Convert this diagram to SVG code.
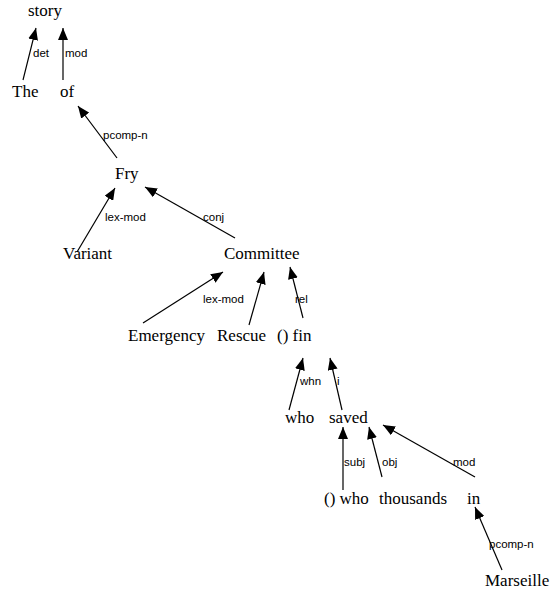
<svg xmlns="http://www.w3.org/2000/svg" width="551" height="593" viewBox="0 0 551 593">
<style>
.w{font-family:"Liberation Serif","Times New Roman",serif;font-size:17px;fill:#000}
.l{font-family:"Liberation Sans",Arial,sans-serif;font-size:11.5px;fill:#000}
.e{stroke:#000;stroke-width:1.2;fill:none;marker-end:url(#a)}
</style>
<defs>
<marker id="a" markerUnits="userSpaceOnUse" markerWidth="14" markerHeight="10" refX="12" refY="5" orient="auto" viewBox="0 0 14 10">
<path d="M0,0 L12,5 L0,10 Z" fill="#000"/>
</marker>
</defs>
<rect width="551" height="593" fill="#fff"/>
<g id="connectors">
<line class="e" x1="23" y1="80" x2="36" y2="28"/>
<line class="e" x1="63" y1="80" x2="63" y2="28"/>
<line class="e" x1="117" y1="158" x2="78" y2="106"/>
<line class="e" x1="77" y1="252" x2="115" y2="188"/>
<line class="e" x1="235" y1="238" x2="145" y2="187"/>
<line class="e" x1="143" y1="323" x2="223" y2="272"/>
<line class="e" x1="249" y1="325" x2="264" y2="272"/>
<line class="e" x1="303" y1="318" x2="290" y2="267"/>
<line class="e" x1="289" y1="410" x2="303" y2="358"/>
<line class="e" x1="342" y1="410" x2="330" y2="358"/>
<line class="e" x1="343" y1="490" x2="343" y2="427"/>
<line class="e" x1="382" y1="477" x2="369" y2="427"/>
<line class="e" x1="475" y1="477" x2="383" y2="425"/>
<line class="e" x1="502" y1="570" x2="475" y2="507"/>
<text class="l" x="33" y="57">det</text>
<text class="l" x="65" y="57">mod</text>
<text class="l" x="103" y="139">pcomp-n</text>
<text class="l" x="105" y="221">lex-mod</text>
<text class="l" x="203" y="221">conj</text>
<text class="l" x="203" y="303">lex-mod</text>
<text class="l" x="295" y="303">rel</text>
<text class="l" x="300" y="385">whn</text>
<text class="l" x="337" y="385">i</text>
<text class="l" x="344" y="466">subj</text>
<text class="l" x="382" y="466">obj</text>
<text class="l" x="453" y="466">mod</text>
<text class="l" x="489" y="548">pcomp-n</text>
</g>
<g id="n-story"><text class="w" x="28" y="16">story</text></g>
<g id="n-the"><text class="w" x="12" y="97">The</text></g>
<g id="n-of"><text class="w" x="60" y="97">of</text></g>
<g id="n-fry"><text class="w" x="115" y="179">Fry</text></g>
<g id="n-variant"><text class="w" x="63" y="259">Variant</text></g>
<g id="n-committee"><text class="w" x="224" y="259">Committee</text></g>
<g id="n-emergency"><text class="w" x="128" y="341">Emergency</text></g>
<g id="n-rescue"><text class="w" x="217" y="341">Rescue</text></g>
<g id="n-fin"><text class="w" x="277" y="341">() fin</text></g>
<g id="n-who"><text class="w" x="285" y="423">who</text></g>
<g id="n-saved"><text class="w" x="329" y="423">saved</text></g>
<g id="n-who2"><text class="w" x="324" y="504">() who</text></g>
<g id="n-thousands"><text class="w" x="379" y="504">thousands</text></g>
<g id="n-in"><text class="w" x="467" y="504">in</text></g>
<g id="n-marseille"><text class="w" x="485" y="586">Marseille</text></g>
</svg>
